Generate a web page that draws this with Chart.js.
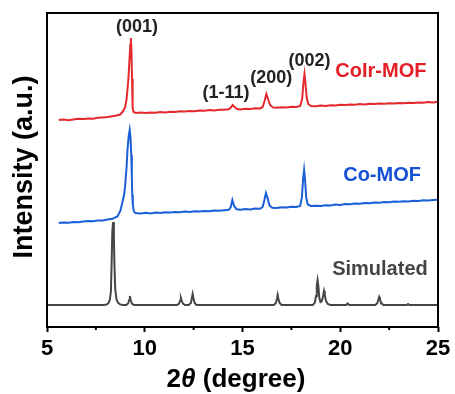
<!DOCTYPE html>
<html>
<head>
<meta charset="UTF-8">
<title>XRD</title>
<script src="https://cdn.jsdelivr.net/npm/chart.js"></script>
<style>
  html, body { margin: 0; padding: 0; background: #fff; }
  #wrap { width: 455px; height: 394px; }
</style>
</head>
<body>
<div id="wrap"><canvas id="xrd" width="455" height="394"></canvas></div>
<script>
// 2theta (degree) / intensity (a.u., stacked offsets)
const coIrX = [5.6, 5.85, 6.1, 6.35, 6.6, 6.85, 7.1, 7.35, 7.6, 7.85, 8.1, 8.35, 8.55, 8.75, 8.9, 9.0, 9.07, 9.16, 9.21, 9.26, 9.29, 9.32, 9.35, 9.37, 9.39, 9.43, 9.55,
  9.8, 10.05, 10.3, 10.55, 10.8, 11.05, 11.3, 11.55, 11.8, 12.05, 12.3, 12.55, 12.8, 13.05, 13.3, 13.55, 13.8, 14.05, 14.3, 14.4, 14.5, 14.6, 14.72, 14.9,
  15.15, 15.4, 15.65, 15.9, 16.03, 16.13, 16.22, 16.31, 16.41, 16.55, 16.75, 17.0, 17.25, 17.5, 17.75, 17.95, 18.05, 18.12, 18.17, 18.22, 18.28, 18.36, 18.5,
  18.75, 19.0, 19.25, 19.5, 19.75, 20.0, 20.25, 20.5, 20.75, 21.0, 21.25, 21.5, 21.75, 22.0, 22.25, 22.5, 22.75, 23.0, 23.25, 23.5, 23.75, 24.0, 24.25, 24.5, 24.75, 25.0];
const coIrY = [207, 207.5, 206.8, 207.6, 208.2, 207.9, 208.6, 208.3, 209.2, 209.6, 210.0, 210.8, 211.5, 212.5, 216, 220, 228, 247, 264, 282, 289, 275, 248, 228, 219, 215, 214,
  214.6, 213.9, 214.5, 214.2, 215.0, 214.6, 215.3, 215.1, 215.8, 215.4, 216.1, 215.7, 216.4, 216.2, 216.9, 216.6, 217.3, 217.2, 217.8, 219.5, 222, 220, 218, 217.6,
  218.2, 218.1, 218.7, 218.6, 220, 226, 233, 228, 222, 219.6, 219.2, 219.8, 219.6, 220.3, 220.1, 221, 228, 245, 253, 244, 230, 223, 221,
  220.8, 221.4, 221.1, 221.8, 221.5, 222.2, 221.9, 222.5, 222.3, 222.9, 222.6, 223.2, 222.9, 223.4, 223.2, 223.8, 223.5, 224.0, 223.7, 224.3, 224.1, 224.6, 224.3, 224.9, 224.6, 225.2];

const coX = [5.6, 5.85, 6.1, 6.35, 6.6, 6.85, 7.1, 7.35, 7.6, 7.85, 8.1, 8.35, 8.6, 8.75, 8.85, 8.95, 9.0, 9.07, 9.12, 9.18, 9.23, 9.27, 9.31, 9.34, 9.36, 9.39, 9.44, 9.52,
  9.8, 10.05, 10.3, 10.55, 10.8, 11.05, 11.3, 11.55, 11.8, 12.05, 12.3, 12.55, 12.8, 13.05, 13.3, 13.55, 13.8, 14.05, 14.3, 14.4, 14.48, 14.57, 14.7, 14.9,
  15.15, 15.4, 15.65, 15.9, 16.03, 16.12, 16.2, 16.28, 16.38, 16.52, 16.75, 17.0, 17.25, 17.5, 17.75, 17.95, 18.04, 18.1, 18.15, 18.2, 18.26, 18.34, 18.5,
  18.75, 19.0, 19.25, 19.5, 19.75, 20.0, 20.25, 20.5, 20.75, 21.0, 21.25, 21.5, 21.75, 22.0, 22.25, 22.5, 22.75, 23.0, 23.25, 23.5, 23.75, 24.0, 24.25, 24.5, 24.75, 25.0];
const coY = [104, 104.6, 104.2, 105.1, 104.8, 105.6, 106.0, 105.7, 106.6, 106.4, 107.5, 108.2, 110.5, 116, 124, 133, 142, 160, 178, 191, 197, 190, 172, 150, 132, 122, 116, 114,
  113.5, 114.2, 113.6, 114.4, 114.0, 114.7, 114.4, 115.1, 114.8, 115.4, 115.1, 115.8, 115.5, 116.1, 115.8, 116.5, 116.2, 116.8, 117.2, 120, 127, 121, 117.8, 117.2,
  117.9, 117.6, 118.4, 118.2, 120, 127, 134, 129, 121.5, 119.2, 119.0, 119.7, 119.5, 120.3, 120.0, 121, 130, 148, 157, 147, 129, 122.5, 121,
  121.3, 121.0, 121.8, 121.6, 122.4, 122.1, 122.9, 122.7, 123.4, 123.2, 123.9, 123.7, 124.4, 124.2, 124.9, 124.7, 125.4, 125.2, 125.8, 125.6, 126.3, 126.1, 126.7, 126.5, 127.0, 127.3];

const simX = [5.0, 7.9, 8.05, 8.15, 8.22, 8.27, 8.31, 8.34, 8.38, 8.42, 8.45, 8.49, 8.55, 8.62, 8.75, 8.9,
  9.05, 9.15, 9.2, 9.24, 9.28, 9.34, 9.45, 11.65, 11.76, 11.81, 11.85, 11.89, 11.95, 12.05,
  12.25, 12.36, 12.41, 12.45, 12.49, 12.55, 12.65, 16.6, 16.71, 16.76, 16.8, 16.84, 16.9, 17.0,
  18.6, 18.7, 18.76, 18.8, 18.84, 18.88, 18.93, 18.99, 19.06, 19.12, 19.17, 19.21, 19.27, 19.36, 19.5,
  20.3, 20.38, 20.46, 21.8, 21.9, 21.95, 21.99, 22.03, 22.1, 22.2, 23.4, 23.47, 23.54, 25.0];
const simY = [22, 22, 22.5, 24, 28, 36, 67, 95, 105, 92, 62, 38, 28, 24.5, 22.5, 22,
  22, 23.5, 27, 31, 27, 23.5, 22, 22, 23.5, 26.5, 29, 26.5, 23.5, 22,
  22, 24, 29, 33, 29, 24, 22, 22, 24, 28, 32, 28, 24, 22,
  22, 24.5, 31, 42, 47, 41, 29, 25, 26, 31, 36, 32, 26, 23, 22,
  22, 23.5, 22, 22, 24, 27.5, 30, 27.5, 24, 22, 22, 23, 22, 22];

const xTicks = [5, 10, 15, 20, 25];
const minorTicks = [7.5, 12.5, 17.5, 22.5];

const peakLabels = ['(001)', '(1-11)', '(200)', '(002)'];
const peakLabelX = [9.6, 14.16, 16.47, 18.43];
const peakLabelY = [300, 234, 249, 266];

const seriesNames = ['CoIr-MOF', 'Co-MOF', 'Simulated'];
const seriesLabelX = [22.08, 22.14, 22.03];
const seriesLabelY = [256, 152, 58];
const seriesColors = ['#e4292e', '#1b5fd8', '#454545'];
const labelColors = ['#e31e25', '#1550d6', '#444444'];

const FONT = '"Liberation Sans", Arial, sans-serif';

function pts(xs, ys) {
  return xs.map((v, i) => ({ x: v, y: ys[i] }));
}

const overlay = {
  id: 'overlay',
  afterDraw(chart) {
    const ctx = chart.ctx;
    const a = chart.chartArea;
    const x = chart.scales.x, y = chart.scales.y;
    ctx.save();
    ctx.strokeStyle = '#000';
    ctx.lineWidth = 2;
    ctx.strokeRect(a.left, a.top, a.right - a.left, a.bottom - a.top);
    minorTicks.forEach(v => {
      const px = x.getPixelForValue(v);
      ctx.beginPath();
      ctx.moveTo(px, a.bottom);
      ctx.lineTo(px, a.bottom + 3);
      ctx.stroke();
    });

    ctx.textAlign = 'center';
    ctx.textBaseline = 'middle';
    ctx.font = 'bold 18px ' + FONT;
    ctx.fillStyle = '#222';
    peakLabels.forEach((t, i) => {
      ctx.fillText(t, x.getPixelForValue(peakLabelX[i]), y.getPixelForValue(peakLabelY[i]));
    });

    ctx.font = 'bold 20px ' + FONT;
    seriesNames.forEach((t, i) => {
      ctx.fillStyle = labelColors[i];
      ctx.fillText(t, x.getPixelForValue(seriesLabelX[i]), y.getPixelForValue(seriesLabelY[i]));
    });

    // x title: 2θ (degree)
    ctx.fillStyle = '#000';
    ctx.textAlign = 'left';
    ctx.textBaseline = 'alphabetic';
    const parts = [['2', 'bold '], ['θ', 'italic bold '], [' (degree)', 'bold ']];
    let w = 0;
    parts.forEach(p => { ctx.font = p[1] + '26px ' + FONT; w += ctx.measureText(p[0]).width; });
    let cx = 236 - w / 2;
    parts.forEach(p => {
      ctx.font = p[1] + '26px ' + FONT;
      ctx.fillText(p[0], cx, 387);
      cx += ctx.measureText(p[0]).width;
    });

    // y title
    ctx.translate(32, 167);
    ctx.rotate(-Math.PI / 2);
    ctx.textAlign = 'center';
    ctx.font = 'bold 27px ' + FONT;
    ctx.fillText('Intensity (a.u.)', 0, 0);
    ctx.restore();
  }
};

new Chart(document.getElementById('xrd'), {
  type: 'line',
  data: {
    datasets: [
      { label: seriesNames[0], data: pts(coIrX, coIrY), borderColor: seriesColors[0], borderWidth: 2 },
      { label: seriesNames[1], data: pts(coX, coY), borderColor: seriesColors[1], borderWidth: 2 },
      { label: seriesNames[2], data: pts(simX, simY), borderColor: seriesColors[2], borderWidth: 2 }
    ]
  },
  options: {
    responsive: false,
    animation: false,
    elements: { point: { radius: 0 }, line: { tension: 0, fill: false } },
    layout: { padding: { left: 47, right: 17, top: 13, bottom: 0 } },
    plugins: { legend: { display: false }, tooltip: { enabled: false } },
    scales: {
      x: {
        type: 'linear',
        min: 5,
        max: 25,
        afterFit: s => { s.height = 67; },
        afterBuildTicks: s => { s.ticks = xTicks.map(v => ({ value: v })); },
        ticks: {
          color: '#000',
          padding: 4,
          maxRotation: 0,
          font: { family: FONT, size: 22, weight: 'bold' }
        },
        grid: { drawOnChartArea: false, drawTicks: true, tickLength: 5, tickWidth: 2, tickColor: '#000' },
        border: { display: false }
      },
      y: {
        display: false,
        min: 0,
        max: 314
      }
    }
  },
  plugins: [overlay]
});
</script>
</body>
</html>
